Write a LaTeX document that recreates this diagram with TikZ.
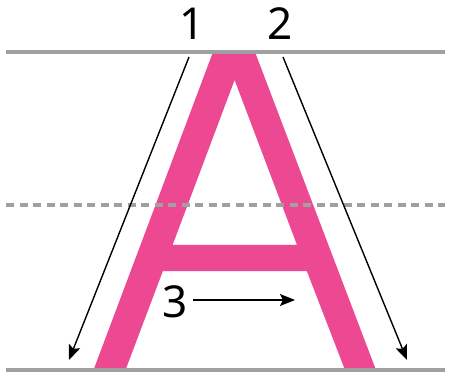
\documentclass[tikz,border=0pt]{standalone}
\usepackage{fontspec}
\setmainfont{Noto Sans}
\usetikzlibrary{arrows.meta}
\definecolor{rosa}{RGB}{237,73,147}
\definecolor{guia}{RGB}{160,160,160}
\tikzset{
  renglon/.style={guia, line width=3.3pt},
  trazo/.style={->, line width=1.4pt},
  cifra/.style={font=\fontsize{44}{44}\selectfont, inner sep=0pt}
}

\begin{document}
\begin{tikzpicture}[x=1pt, y=1pt, >={Stealth[length=15pt, width=12pt, inset=3pt]}]
  \useasboundingbox (0,0) rectangle (450,378);

  % Letra A
  \fill[rosa, even odd rule]
    (93.5,8) -- (213,326) -- (255,326) -- (376,8) -- (345,8) -- (306.8,107)
    -- (162.9,107) -- (125.5,8) -- cycle
    (172.6,133) -- (234.6,298) -- (297,133) -- cycle;

  % Renglones
  \draw[renglon] (6,326) -- (445,326);
  \draw[renglon, dash pattern=on 8pt off 5.5pt] (6,173) -- (445,173);
  \draw[renglon] (6,8) -- (445,8);

  % Numeros
  \node[cifra] (n1) at (192,354) {1};
  \node[cifra] (n2) at (280,354) {2};
  \node[cifra] (n3) at (175,76) {3};

  % Extremos de los trazos
  \coordinate (a1) at (189,321);
  \coordinate (b1) at (69,18);
  \coordinate (a2) at (283,321);
  \coordinate (b2) at (407,18);
  \coordinate (a3) at (193,78);
  \coordinate (b3) at (295,78);

  % Trazos
  \draw[trazo] (a1) -- (b1);
  \draw[trazo] (a2) -- (b2);
  \draw[trazo] (a3) -- (b3);
\end{tikzpicture}
\end{document}
